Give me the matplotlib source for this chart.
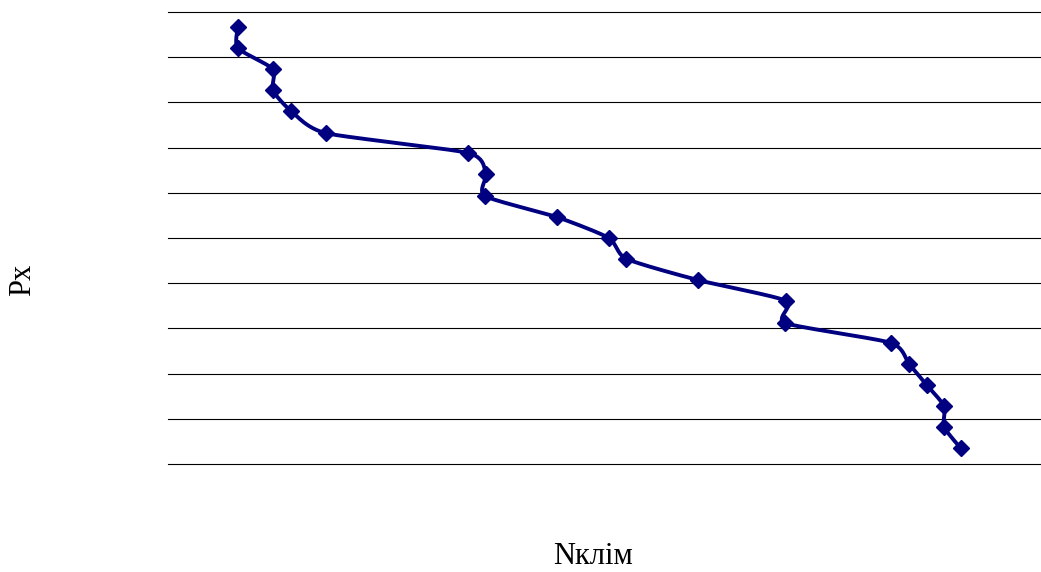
import numpy as np
import matplotlib.pyplot as plt

plt.rcParams['font.family'] = ['Liberation Serif', 'DejaVu Serif']

# Nклім values (relative units) and exceedance probability Px
n_klim = [8.0, 8.0, 12.0, 12.0, 14.1, 18.1, 34.4, 36.4, 36.3, 44.6, 50.5,
          52.5, 60.7, 70.8, 70.7, 82.8, 84.9, 86.9, 88.9, 88.9, 90.8]
px = [0.967, 0.920, 0.874, 0.827, 0.781, 0.732, 0.688, 0.642, 0.593, 0.546,
      0.500, 0.454, 0.407, 0.361, 0.312, 0.268, 0.221, 0.175, 0.128, 0.082, 0.035]


def smooth(x, y, steps=24, tension=0.65):
    # cardinal spline through the points (smoothed line look)
    pts = np.column_stack([x, y])
    ext = np.vstack([pts[0], pts, pts[-1]])
    tang = tension * (ext[2:] - ext[:-2]) / 2
    t = np.linspace(0, 1, steps, endpoint=False)[:, None]
    h00 = 2 * t ** 3 - 3 * t ** 2 + 1
    h10 = t ** 3 - 2 * t ** 2 + t
    h01 = -2 * t ** 3 + 3 * t ** 2
    h11 = t ** 3 - t ** 2
    out = []
    for i in range(len(pts) - 1):
        out.append(h00 * pts[i] + h10 * tang[i] + h01 * pts[i + 1] + h11 * tang[i + 1])
    out.append(pts[-1][None, :])
    out = np.vstack(out)
    return out[:, 0], out[:, 1]


fig = plt.figure(figsize=(10.41, 5.72), dpi=100)
ax = fig.add_axes([168 / 1041, 1 - 464 / 572, 1 - 168 / 1041, 452 / 572])

for g in np.arange(0, 1.01, 0.1):
    ax.axhline(g, color='black', lw=0.8, clip_on=False, zorder=1)

sx, sy = smooth(n_klim, px)
ax.plot(sx, sy, color='#000080', lw=2.8, zorder=3, solid_capstyle='round')
ax.plot(n_klim, px, linestyle='none', marker='D', markersize=8.5,
        color='#000080', zorder=4)

ax.set_xlim(0, 100)
ax.set_ylim(0, 1)
for s in ax.spines.values():
    s.set_visible(False)
ax.set_xticks([])
ax.set_yticks([])

fig.text(23 / 1041, 1 - 280 / 572, 'Px', rotation=90, ha='center', va='center',
         fontsize=22)
fig.text(593 / 1041, 1 - 557 / 572, 'Nклім', ha='center', va='center',
         fontsize=22)

fig.savefig('out.png', dpi=100)
